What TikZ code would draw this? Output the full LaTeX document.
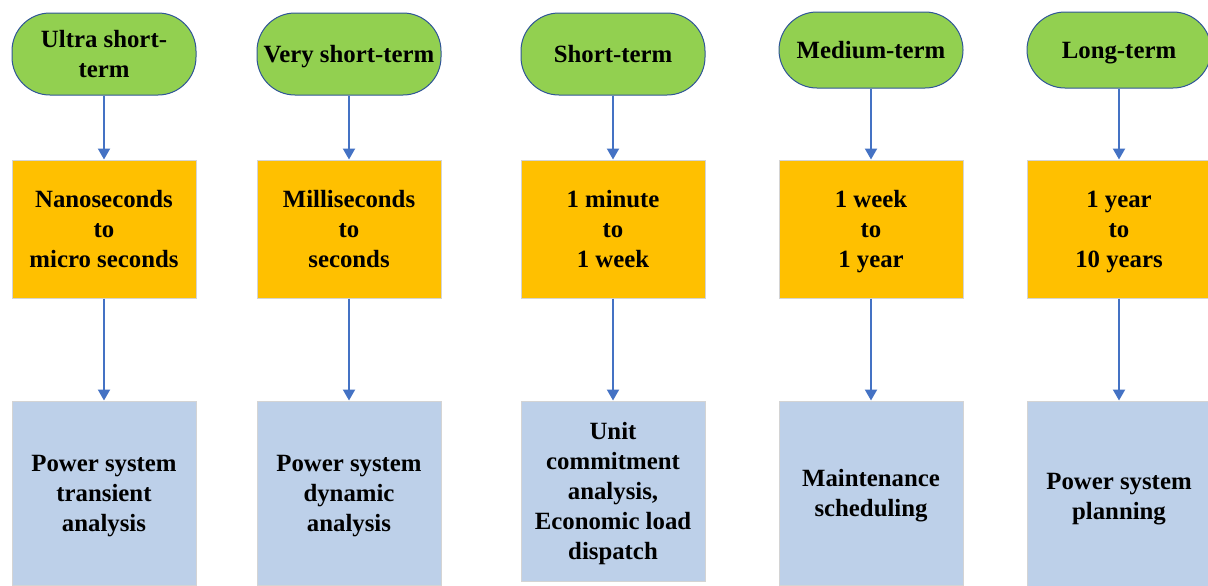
\documentclass[tikz,border=0pt]{standalone}
\usepackage{fontspec}
\setmainfont{Liberation Serif}
\usetikzlibrary{arrows.meta}
\definecolor{grn}{HTML}{92D050}
\definecolor{grnb}{HTML}{2F5597}
\definecolor{org}{HTML}{FFC000}
\definecolor{lblue}{HTML}{BDD0E9}
\definecolor{edgegray}{HTML}{D4D4D4}
\definecolor{arr}{HTML}{4472C4}
\newcommand\mystrut{\rule[-3.5pt]{0pt}{15pt}}
\tikzset{
  txtbox/.style={font=\fontsize{12.4}{15}\selectfont\bfseries, align=center, inner sep=0pt},
  termbox/.style={txtbox, draw=grnb, line width=0.5pt, fill=grn, rounded corners=19pt, minimum width=92pt},
  tallterm/.style={minimum height=41pt},
  lowterm/.style={minimum height=38pt},
  rangebox/.style={txtbox, draw=edgegray, line width=0.5pt, fill=org, minimum width=92pt, minimum height=69pt},
  usebox/.style={txtbox, draw=edgegray, line width=0.5pt, fill=lblue, minimum width=92pt, minimum height=92pt},
  conn/.style={draw=arr, line width=1pt, -{Triangle[width=6pt,length=5.5pt]}}
}
\begin{document}
\begin{tikzpicture}[x=0.5pt,y=-0.5pt]
\fill[white] (0,0) rectangle (1208,585);
\useasboundingbox (0,0) rectangle (1208,585);
\begin{scope}
\clip (0,0) rectangle (1208,585);
% top row
\node[termbox,tallterm] (t1) at (104,54) {\mystrut Ultra short-\\\mystrut term};
\node[termbox,tallterm] (t2) at (349,54) {\mystrut Very short-term};
\node[termbox,tallterm] (t3) at (613,54) {\mystrut Short-term};
\node[termbox,lowterm] (t4) at (871,50) {\mystrut Medium-term};
\node[termbox,lowterm] (t5) at (1119,50) {\mystrut Long-term};
% middle row
\node[rangebox] (r1) at (104,229) {\mystrut Nanoseconds\\to\\\mystrut micro seconds};
\node[rangebox] (r2) at (349,229) {\mystrut Milliseconds\\to\\\mystrut seconds};
\node[rangebox] (r3) at (613,229) {\mystrut 1 minute\\to\\\mystrut 1 week};
\node[rangebox] (r4) at (871,229) {\mystrut 1 week\\to\\\mystrut 1 year};
\node[rangebox] (r5) at (1119,229) {\mystrut 1 year\\to\\\mystrut 10 years};
% bottom row
\node[usebox] (u1) at (104,493) {\mystrut Power system\\transient\\\mystrut analysis};
\node[usebox] (u2) at (349,493) {\mystrut Power system\\dynamic\\\mystrut analysis};
\node[usebox, minimum height=90pt] (u3) at (613,491) {\mystrut Unit\\commitment\\analysis,\\Economic load\\\mystrut dispatch};
\node[usebox] (u4) at (871,493) {\mystrut Maintenance\\\mystrut scheduling};
\node[usebox, minimum height=95pt] (u5) at (1119,496) {\mystrut Power system\\\mystrut planning};
\end{scope}
% connectors
\foreach \i in {1,...,5} {
  \draw[conn] (t\i) -- (r\i);
  \draw[conn] (r\i) -- (u\i);
}
\end{tikzpicture}
\end{document}
